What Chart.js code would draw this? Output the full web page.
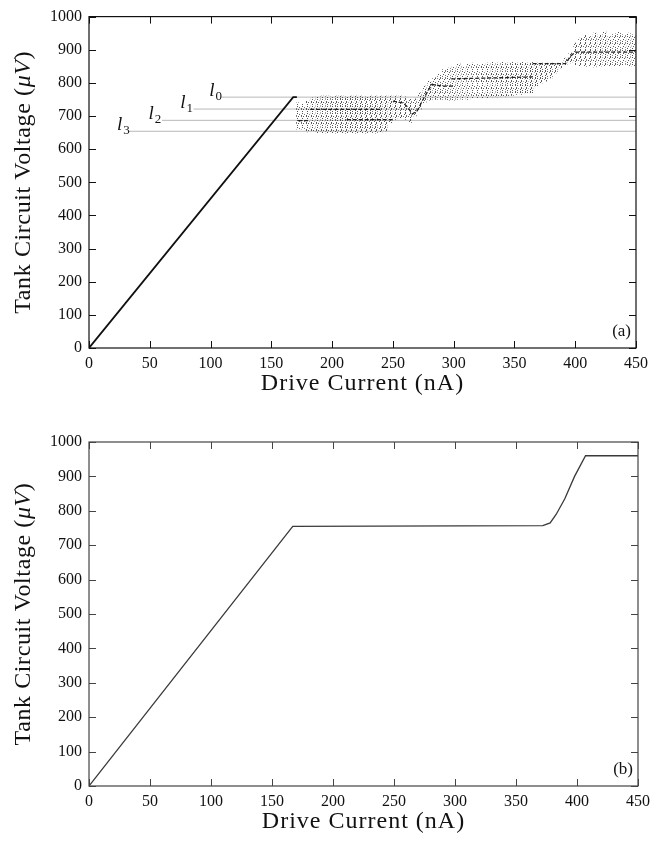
<!DOCTYPE html>
<html>
<head>
<meta charset="utf-8">
<script src="https://cdn.jsdelivr.net/npm/chart.js@4/dist/chart.umd.min.js"></script>
<style>
  body { margin: 0; background: #fff; }
  canvas { position: absolute; left: 0; }
</style>
</head>
<body>
<canvas id="chartA" width="656" height="410" style="top:0"></canvas>
<canvas id="chartB" width="656" height="422" style="top:420px"></canvas>
<script>
// axes
const xTicks = [0, 50, 100, 150, 200, 250, 300, 350, 400, 450];
const yTicks = [0, 100, 200, 300, 400, 500, 600, 700, 800, 900, 1000];

// (a) linear rise and the jumpy part of the trace
const rampX = [0, 168, 171];
const rampY = [0, 757, 757];
// plateau pieces, null = break
const stepX = [172, 181, null, 182, 240, null, 212, 250, null,
               250, 258, 262, 266, 270, 276, 282, 292, 300, null, 298, 365, null,
               365, 392, 396, 400, 450];
const stepY = [686, 686, null, 720, 720, null, 689, 689, null,
               745, 740, 728, 706, 716, 758, 795, 790, 790, null, 812, 818, null,
               858, 858, 880, 893, 893];

// (a) spread of the scattered points, every 4 nA
const noiseX = [172, 176, 180, 184, 188, 192, 196, 200, 204, 208, 212, 216, 220, 224, 228, 232, 236, 240,
                244, 248, 252, 256, 260, 264, 268, 272, 276, 280, 284, 288, 292, 296, 300, 304, 308, 312,
                316, 320, 324, 328, 332, 336, 340, 344, 348, 352, 356, 360, 364, 368, 372, 376, 380, 384,
                388, 392, 396, 400, 404, 408, 412, 416, 420, 424, 428, 432, 436, 440, 444, 448];
const noiseLo = [660, 660, 652, 655, 650, 650, 648, 650, 648, 650, 648, 650, 648, 650, 648, 650, 648, 652,
                 655, 680, 690, 695, 690, 680, 700, 720, 740, 748, 750, 750, 750, 748, 748, 750, 750, 750,
                 752, 755, 752, 755, 758, 758, 760, 760, 762, 765, 765, 768, 770, 790, 800, 805, 815, 830,
                 845, 855, 860, 855, 852, 850, 852, 848, 850, 852, 850, 852, 850, 855, 852, 850];
const noiseHi = [740, 735, 745, 755, 758, 760, 760, 758, 760, 760, 758, 760, 760, 760, 758, 760, 760, 760,
                 760, 760, 760, 760, 758, 750, 752, 770, 790, 805, 815, 828, 840, 845, 850, 858, 850, 858,
                 860, 855, 858, 860, 862, 860, 862, 860, 862, 860, 862, 860, 862, 860, 860, 860, 860, 860,
                 862, 875, 890, 920, 935, 945, 940, 950, 945, 955, 940, 948, 955, 945, 950, 945];

// (a) levels l0..l3
const levelNames = ['0', '1', '2', '3'];
const levelValues = [757, 721, 687, 654];
const levelStart = [109, 86, 60, 32];
const levelLabelX = [99, 75, 49, 23];

// (b) trace
const traceBX = [0, 167, 372, 378, 383, 390, 398, 407, 450];
const traceBY = [0, 755, 757, 765, 790, 835, 900, 960, 960];

const serif = '"Liberation Serif", "DejaVu Serif", serif';

function makeSpeckle() {
    const c = document.createElement('canvas');
    c.width = 5; c.height = 7;
    const g = c.getContext('2d');
    g.fillStyle = 'rgba(25,25,25,0.72)';
    [[0, 0, 1, 2], [2, 1, 1, 1], [1, 3, 1, 2], [3, 4, 1, 1], [0, 5, 1, 1], [4, 2, 1, 1], [2, 6, 1, 1]]
        .forEach(r => g.fillRect(r[0], r[1], r[2], r[3]));
    return c.getContext('2d').createPattern(c, 'repeat');
}

function xy(xs, ys) {
    return xs.map((x, i) => ({x: x === null ? NaN : x, y: ys[i]}));
}

// frame with inward ticks on all four sides, titles, panel tag
const framePlugin = {
    id: 'frame',
    afterDatasetsDraw(chart, args, opts) {
        const {ctx, chartArea: a, scales: {x, y}} = chart;
        ctx.save();
        ctx.strokeStyle = opts.color;
        ctx.lineWidth = 1.2;
        ctx.strokeRect(a.left, a.top, a.right - a.left, a.bottom - a.top);
        ctx.lineWidth = 1;
        ctx.beginPath();
        xTicks.forEach(v => {
            const px = Math.round(x.getPixelForValue(v)) + 0.5;
            ctx.moveTo(px, a.bottom); ctx.lineTo(px, a.bottom - 7);
            ctx.moveTo(px, a.top); ctx.lineTo(px, a.top + 7);
        });
        yTicks.forEach(v => {
            const py = Math.round(y.getPixelForValue(v)) + 0.5;
            ctx.moveTo(a.left, py); ctx.lineTo(a.left + 7, py);
            ctx.moveTo(a.right, py); ctx.lineTo(a.right - 7, py);
        });
        ctx.stroke();
        ctx.restore();
    },
    afterDraw(chart, args, opts) {
        const {ctx, chartArea: a} = chart;
        ctx.save();
        ctx.fillStyle = '#111';
        ctx.letterSpacing = '1px';
        // x title
        ctx.font = '24px ' + serif;
        ctx.textAlign = 'center';
        ctx.textBaseline = 'middle';
        ctx.fillText('Drive Current (nA)', (a.left + a.right) / 2, a.bottom + 36);
        // y title, with italic muV
        ctx.letterSpacing = '0.6px';
        const parts = [['Tank Circuit Voltage (', ''], ['\u03bcV', 'italic '], [')', '']];
        let total = 0;
        parts.forEach(p => { ctx.font = p[1] + '24px ' + serif; total += ctx.measureText(p[0]).width; });
        ctx.translate(24, (a.top + a.bottom) / 2);
        ctx.rotate(-Math.PI / 2);
        ctx.textAlign = 'left';
        let cx = -total / 2;
        parts.forEach(p => {
            ctx.font = p[1] + '24px ' + serif;
            ctx.fillText(p[0], cx, 0);
            cx += ctx.measureText(p[0]).width;
        });
        ctx.restore();
        // panel tag
        ctx.save();
        ctx.fillStyle = '#111';
        ctx.font = '17px ' + serif;
        ctx.textAlign = 'right';
        ctx.textBaseline = 'middle';
        ctx.fillText(opts.tag, a.right - 5, a.bottom - 16);
        ctx.restore();
    }
};

// l0..l3 labels for panel (a)
const levelLabelPlugin = {
    id: 'levelLabels',
    afterDatasetsDraw(chart) {
        const {ctx, scales: {x, y}} = chart;
        ctx.save();
        ctx.fillStyle = '#111';
        ctx.textBaseline = 'alphabetic';
        levelNames.forEach((n, i) => {
            const px = x.getPixelForValue(levelLabelX[i]);
            const py = y.getPixelForValue(levelValues[i]) - 1;
            ctx.font = 'italic 19px ' + serif;
            ctx.fillText('l', px, py);
            const w = ctx.measureText('l').width;
            ctx.font = '13px ' + serif;
            ctx.fillText(n, px + w + 1, py + 4);
        });
        ctx.restore();
    }
};

function axes(xHeight) {
    const tickFont = {family: serif, size: 16};
    return {
        x: {
            type: 'linear', min: 0, max: 450, offset: false,
            ticks: {stepSize: 50, font: tickFont, color: '#111', padding: 6, maxRotation: 0},
            grid: {display: false, drawTicks: false},
            border: {display: false},
            afterFit: s => { s.height = xHeight; }
        },
        y: {
            min: 0, max: 1000,
            ticks: {stepSize: 100, font: tickFont, color: '#111', padding: 7, callback: v => String(v)},
            grid: {display: false, drawTicks: false},
            border: {display: false},
            afterFit: s => { s.width = 89; }
        }
    };
}

const chartA = new Chart(document.getElementById('chartA'), {
    type: 'bar',
    data: {
        datasets: [
            ...levelValues.map((v, i) => ({
                type: 'line',
                data: [{x: levelStart[i], y: v}, {x: 450, y: v}],
                borderColor: '#b8b8b8',
                borderWidth: 1,
                pointRadius: 0,
                order: 4
            })),
            {
                type: 'bar',
                data: noiseX.map((x, i) => ({x: x, y: [noiseLo[i], noiseHi[i]]})),
                backgroundColor: makeSpeckle(),
                barThickness: 3,
                order: 3
            },
            {
                type: 'line',
                data: xy(stepX, stepY),
                borderColor: '#222',
                borderWidth: 1.3,
                borderDash: [4, 2],
                pointRadius: 0,
                spanGaps: false,
                order: 2
            },
            {
                type: 'line',
                data: xy(rampX, rampY),
                borderColor: '#111',
                borderWidth: 1.8,
                pointRadius: 0,
                order: 1
            }
        ]
    },
    options: {
        responsive: false,
        animation: false,
        layout: {padding: {top: 13, right: 20, left: 0, bottom: 0}},
        plugins: {legend: {display: false}, tooltip: {enabled: false}, frame: {color: '#111', tag: '(a)'}},
        scales: axes(62)
    },
    plugins: [framePlugin, levelLabelPlugin]
});

const chartB = new Chart(document.getElementById('chartB'), {
    type: 'line',
    data: {
        datasets: [{
            data: xy(traceBX, traceBY),
            borderColor: '#3a3a3a',
            borderWidth: 1.3,
            pointRadius: 0
        }]
    },
    options: {
        responsive: false,
        animation: false,
        layout: {padding: {top: 22, right: 12, left: 0, bottom: 0}},
        plugins: {legend: {display: false}, tooltip: {enabled: false}, frame: {color: '#444', tag: '(b)'}},
        scales: axes(56)
    },
    plugins: [framePlugin]
});
</script>
</body>
</html>
